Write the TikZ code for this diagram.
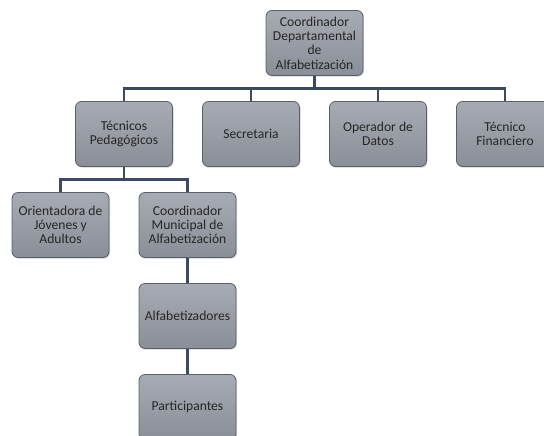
\documentclass[tikz,border=0pt]{standalone}
\usepackage{fontspec}
\setmainfont{Carlito}
\usepackage{xcolor}
\usepackage{tikz}
\usetikzlibrary{trees,shadows}

\definecolor{boxtop}{HTML}{A7ABB3}
\definecolor{boxbot}{HTML}{8A8E96}
\definecolor{boxline}{HTML}{5A5E66}
\definecolor{linkcol}{HTML}{3B4A5F}

\begin{document}
\begin{tikzpicture}[x=1pt,y=1pt,
  every node/.style={draw=boxline, line width=0.8pt, rounded corners=6pt,
    top color=boxtop, bottom color=boxbot,
    drop shadow={shadow xshift=1pt, shadow yshift=-1.2pt, opacity=0.35},
    minimum width=97pt, minimum height=65pt, align=center, inner sep=2pt,
    font=\fontsize{13.6}{14.3}\selectfont, text=black!85},
  level distance=91pt, sibling distance=127pt,
  edge from parent fork down,
  edge from parent/.style={draw=linkcol, line width=2.6pt}]
  \useasboundingbox (0,0) rectangle (544,-436);
  \clip (0,0) rectangle (544,-436);
  \node (cdep) at (314.5,-43) {Coordinador\\Departamental\\de\\Alfabetización}
    child { node (tped) {Técnicos\\Pedagógicos}
      child { node (orient) {Orientadora de\\Jóvenes y\\Adultos}}
      child { node (cmun) {Coordinador\\Municipal de\\Alfabetización}
        child { node (alfab) {Alfabetizadores}
          child { node (part) {Participantes}}
        }
      }
    }
    child { node (secr) {Secretaria}}
    child { node (oper) {Operador de\\Datos}}
    child { node (tfin) {Técnico\\Financiero}};
\end{tikzpicture}
\end{document}
